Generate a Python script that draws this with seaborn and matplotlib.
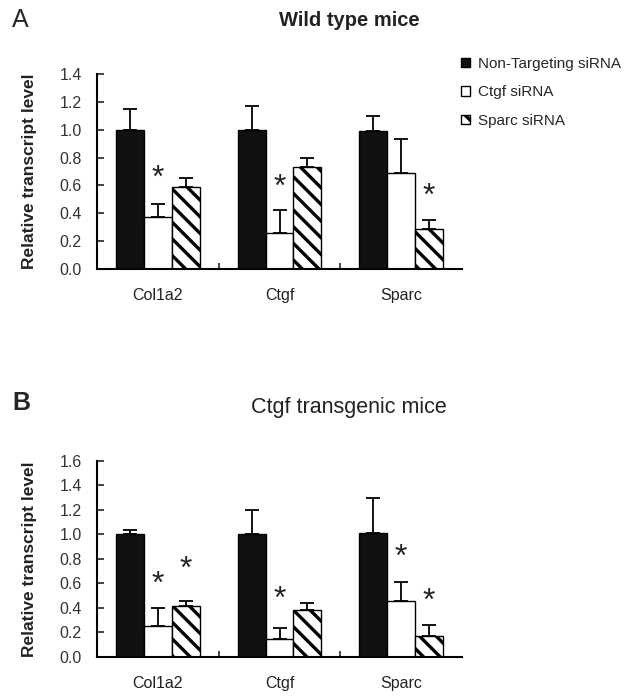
import matplotlib
matplotlib.use("Agg")
import matplotlib.pyplot as plt
import seaborn as sns
import pandas as pd

sns.set_style("white")
plt.rcParams['font.family'] = ['Liberation Sans', 'DejaVu Sans']
plt.rcParams['hatch.linewidth'] = 2.4
plt.rcParams['hatch.color'] = 'black'

genes = ["Col1a2", "Ctgf", "Sparc"]
groups = ["Non-Targeting siRNA", "Ctgf siRNA", "Sparc siRNA"]

# Panel A: Wild type mice
a_nontarget = [1.00, 1.00, 0.99]
a_ctgf = [0.37, 0.26, 0.69]
a_sparc = [0.59, 0.73, 0.29]
a_err_nontarget = [0.15, 0.17, 0.11]
a_err_ctgf = [0.10, 0.16, 0.24]
a_err_sparc = [0.06, 0.07, 0.06]
a_stars = [("Col1a2", "Ctgf siRNA", 0.65), ("Ctgf", "Ctgf siRNA", 0.58),
           ("Sparc", "Sparc siRNA", 0.52)]

# Panel B: Ctgf transgenic mice
b_nontarget = [1.00, 1.00, 1.01]
b_ctgf = [0.25, 0.15, 0.46]
b_sparc = [0.42, 0.38, 0.17]
b_err_nontarget = [0.04, 0.20, 0.29]
b_err_ctgf = [0.15, 0.09, 0.15]
b_err_sparc = [0.04, 0.06, 0.09]
b_stars = [("Col1a2", "Ctgf siRNA", 0.59), ("Col1a2", "Sparc siRNA", 0.71),
           ("Ctgf", "Ctgf siRNA", 0.47), ("Sparc", "Ctgf siRNA", 0.81),
           ("Sparc", "Sparc siRNA", 0.45)]

a_ticks = [0.0, 0.2, 0.4, 0.6, 0.8, 1.0, 1.2, 1.4]
b_ticks = [0.0, 0.2, 0.4, 0.6, 0.8, 1.0, 1.2, 1.4, 1.6]


def make_df(vals, errs):
    rows = []
    for g, v, e in zip(groups, vals, errs):
        for gene, vv, ee in zip(genes, v, e):
            rows.append({"gene": gene, "group": g, "value": vv, "err": ee})
    return pd.DataFrame(rows)


fig = plt.figure(figsize=(6.32, 6.99), dpi=100)
axA = fig.add_axes([0.1535, 0.6152, 0.5775, 0.2790])
axB = fig.add_axes([0.1535, 0.0601, 0.5775, 0.2804])


def draw(ax, df, ticks, stars):
    sns.barplot(data=df, x="gene", y="value", hue="group", order=genes,
                hue_order=groups, width=0.69, errorbar=None, ax=ax,
                legend=False, saturation=1)
    styles = [dict(facecolor="#111111", hatch=None),
              dict(facecolor="white", hatch=None),
              dict(facecolor="white", hatch="\\\\")]
    centers = {}
    for gi, (cont, st) in enumerate(zip(ax.containers, styles)):
        sub = df[df.group == groups[gi]].set_index("gene").loc[genes]
        for bi, p in enumerate(cont.patches):
            p.set_facecolor(st["facecolor"])
            p.set_edgecolor("black")
            p.set_linewidth(1.0)
            if st["hatch"]:
                p.set_hatch(st["hatch"])
            cx = p.get_x() + p.get_width() / 2
            h = p.get_height()
            centers[(genes[bi], groups[gi])] = cx
            ax.errorbar([cx], [h], yerr=[[0], [sub["err"].iloc[bi]]],
                        fmt="none", ecolor="black", elinewidth=1.3,
                        capsize=5, capthick=1.3, zorder=1)
    for gene, grp, y in stars:
        ax.text(centers[(gene, grp)], y, "*", ha="center", va="center",
                fontsize=23, color="#222222")
    ax.set_xlim(-0.5, 2.5)
    ax.set_ylim(0, ticks[-1])
    ax.set_yticks(ticks)
    ax.set_yticklabels([f"{t:.1f}" for t in ticks])
    ax.set_xticks(range(len(genes)))
    ax.set_xticklabels(genes)
    ax.set_xticks([0.5, 1.5], minor=True)
    ax.tick_params(axis="x", which="major", length=0, pad=14, labelsize=11.5,
                   labelcolor="#222222")
    ax.tick_params(axis="x", which="minor", length=4, direction="in",
                   width=1.2, bottom=True)
    ax.tick_params(axis="y", length=5, direction="in", width=1.2, pad=11,
                   labelsize=11.5, labelcolor="#333333", left=True)
    for s in ["top", "right"]:
        ax.spines[s].set_visible(False)
    for s in ["left", "bottom"]:
        ax.spines[s].set_color("black")
        ax.spines[s].set_linewidth(1.5)
    ax.set_xlabel("")
    ax.set_ylabel("Relative transcript level", fontsize=12.5, fontweight="bold",
                  labelpad=16, color="#222222")
    return ax


draw(axA, make_df([a_nontarget, a_ctgf, a_sparc],
                  [a_err_nontarget, a_err_ctgf, a_err_sparc]), a_ticks, a_stars)
draw(axB, make_df([b_nontarget, b_ctgf, b_sparc],
                  [b_err_nontarget, b_err_ctgf, b_err_sparc]), b_ticks, b_stars)

fig.text(349 / 632, 1 - 21 / 699, "Wild type mice", ha="center", va="center",
         fontsize=14.5, fontweight="bold", color="#222222")
fig.text(349 / 632, 1 - 408 / 699, "Ctgf transgenic mice", ha="center",
         va="center", fontsize=15.5, color="#222222")
fig.text(12 / 632, 1 - 20 / 699, "A", ha="left", va="center", fontsize=18)
fig.text(12 / 632, 1 - 403 / 699, "B", ha="left", va="center", fontsize=18,
         fontweight="bold")

handles = list(axA.containers[i].patches[0] for i in range(3))
fig.legend(handles, groups, loc="upper left",
           bbox_to_anchor=(447 / 632, 1 - 43 / 699), frameon=False,
           handlelength=0.6, handleheight=0.6, handletextpad=0.5,
           labelspacing=0.95, fontsize=11)

fig.savefig("out.png", dpi=100)
